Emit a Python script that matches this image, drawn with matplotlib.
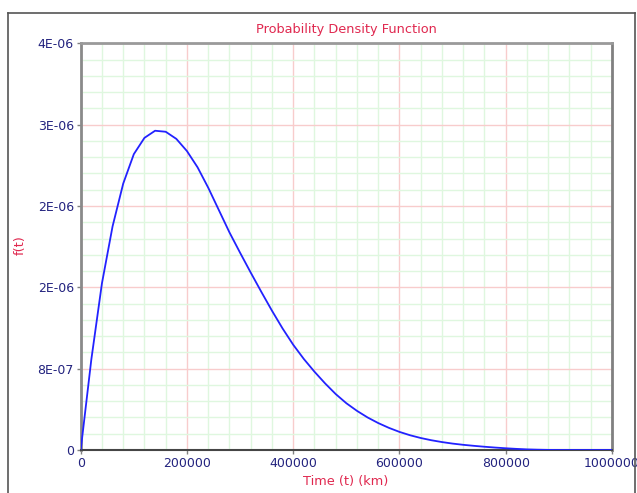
import matplotlib
matplotlib.use("Agg")
import matplotlib.pyplot as plt
from matplotlib.ticker import FixedLocator, MultipleLocator
from matplotlib.lines import Line2D

# ---- data ----
time_km = [0, 20000, 40000, 60000, 80000, 100000, 120000, 140000, 160000, 180000,
           200000, 220000, 240000, 260000, 280000, 300000, 320000, 340000, 360000,
           380000, 400000, 420000, 440000, 460000, 480000, 500000, 520000, 540000,
           560000, 580000, 600000, 620000, 640000, 660000, 680000, 700000, 720000,
           740000, 760000, 780000, 800000, 820000, 840000, 860000, 880000, 900000,
           950000, 1000000]
pdf_vals = [0, 0.89e-6, 1.64e-6, 2.20e-6, 2.62e-6, 2.91e-6, 3.07e-6, 3.14e-6, 3.13e-6,
            3.06e-6, 2.94e-6, 2.78e-6, 2.58e-6, 2.36e-6, 2.14e-6, 1.94e-6, 1.745e-6,
            1.555e-6, 1.37e-6, 1.195e-6, 1.035e-6, 0.895e-6, 0.77e-6, 0.655e-6,
            0.55e-6, 0.46e-6, 0.385e-6, 0.32e-6, 0.265e-6, 0.218e-6, 0.178e-6,
            0.145e-6, 0.118e-6, 0.096e-6, 0.078e-6, 0.063e-6, 0.051e-6, 0.041e-6,
            0.032e-6, 0.024e-6, 0.017e-6, 0.011e-6, 0.006e-6, 0.003e-6, 0.001e-6,
            0.0, 0.0, 0.0]

x_ticks = [0, 200000, 400000, 600000, 800000, 1000000]
x_tick_labels = ["0", "200000", "400000", "600000", "800000", "1000000"]
y_ticks = [0, 0.8e-6, 1.6e-6, 2.4e-6, 3.2e-6, 4.0e-6]
y_tick_labels = ["0", "8E-07", "2E-06", "2E-06", "3E-06", "4E-06"]

title = "Probability Density Function"
x_label = "Time (t) (km)"
y_label = "f(t)"

# ---- styling ----
W, H, DPI = 637, 493, 100
red_txt = "#e0284f"
navy = "#23237f"

fig = plt.figure(figsize=(W / DPI, H / DPI), dpi=DPI)
fig.patch.set_facecolor("white")

left, right, top, bottom = 80.7, 612, 43.3, 450
ax = fig.add_axes([left / W, 1 - bottom / H, (right - left) / W, (bottom - top) / H])

ax.set_xlim(0, 1000000)
ax.set_ylim(0, 4.0e-6)

ax.xaxis.set_major_locator(FixedLocator(x_ticks))
ax.xaxis.set_minor_locator(MultipleLocator(40000))
ax.yaxis.set_major_locator(FixedLocator(y_ticks))
ax.yaxis.set_minor_locator(MultipleLocator(0.16e-6))
ax.set_xticklabels(x_tick_labels)
ax.set_yticklabels(y_tick_labels)

ax.grid(which="minor", color="#dff7df", linewidth=1.0, zorder=0)
ax.grid(which="major", color="#f8cccc", linewidth=1.0, zorder=0)
ax.set_axisbelow(True)

ax.tick_params(which="major", direction="out", length=3, width=1, color="#808080",
               labelsize=9, labelcolor=navy, pad=2)
ax.tick_params(which="minor", length=0)

for side, col, lw in [("left", "#8a8a8a", 2.0), ("bottom", "#454545", 1.5),
                      ("top", "#9a9a9a", 2.0), ("right", "#808080", 2.0)]:
    ax.spines[side].set_color(col)
    ax.spines[side].set_linewidth(lw)

ax.plot(time_km, pdf_vals, color="#2222ff", linewidth=1.3, zorder=3)

fig.text(346 / W, 1 - 30 / H, title, color=red_txt, fontsize=9.3, ha="center", va="center")
fig.text(346 / W, 1 - 482 / H, x_label, color=red_txt, fontsize=9.3, ha="center", va="center")
fig.text(20 / W, 1 - 245 / H, y_label, color=red_txt, fontsize=9.3, ha="center", va="center",
         rotation=90)

# outer frame
fc = "#555555"
fig.add_artist(Line2D([8 / W, 8 / W], [1 - 13 / H, 0], transform=fig.transFigure, color=fc, lw=1.2))
fig.add_artist(Line2D([8 / W, 635 / W], [1 - 13 / H, 1 - 13 / H], transform=fig.transFigure, color=fc, lw=1.2))
fig.add_artist(Line2D([635 / W, 635 / W], [1 - 13 / H, 0], transform=fig.transFigure, color=fc, lw=1.2))

fig.savefig("out.png", dpi=DPI)
